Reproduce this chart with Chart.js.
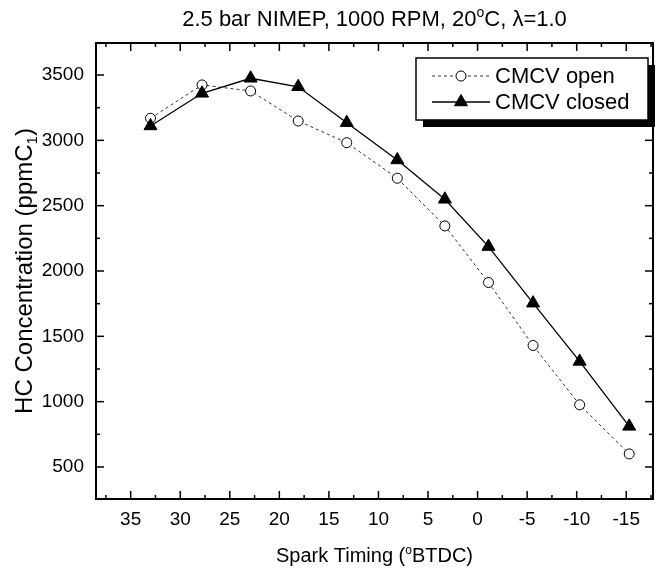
<!DOCTYPE html>
<html>
<head>
<meta charset="utf-8">
<script src="https://cdn.jsdelivr.net/npm/chart.js@4.4.1/dist/chart.umd.min.js"></script>
<style>
  html, body { margin: 0; padding: 0; background: #fff; }
</style>
</head>
<body>
<canvas id="chart" width="656" height="575"></canvas>
<script>
// spark timing of each test point, deg BTDC
const sparkTiming = [33, 27.8, 22.9, 18.1, 13.2, 8.1, 3.3, -1.1, -5.6, -10.3, -15.3];
// HC concentration, ppmC1
const hcOpen = [3169, 3424, 3378, 3148, 2982, 2710, 2345, 1912, 1430, 976, 600];
const hcClosed = [3110, 3360, 3475, 3410, 3135, 2850, 2549, 2187, 1754, 1308, 811];
const seriesNames = ['CMCV open', 'CMCV closed'];
const xTicks = [35, 30, 25, 20, 15, 10, 5, 0, -5, -10, -15];
const yTicks = [500, 1000, 1500, 2000, 2500, 3000, 3500];

const FONT = '"Liberation Sans", Arial, sans-serif';

function partsWidth(ctx, parts, size) {
  let w = 0;
  for (const p of parts) {
    ctx.font = (p.sup || p.sub ? Math.round(size * 0.62) : size) + 'px ' + FONT;
    w += ctx.measureText(p.t).width;
  }
  return w;
}

// draws text with super/subscripts, centred on x, y is the baseline
function drawParts(ctx, parts, x, y, size) {
  let cx = x - partsWidth(ctx, parts, size) / 2;
  ctx.textAlign = 'left';
  ctx.textBaseline = 'alphabetic';
  ctx.fillStyle = '#000';
  for (const p of parts) {
    ctx.font = (p.sup || p.sub ? Math.round(size * 0.62) : size) + 'px ' + FONT;
    const dy = p.sup ? -size * 0.4 : p.sub ? size * 0.22 : 0;
    ctx.fillText(p.t, cx, y + dy);
    cx += ctx.measureText(p.t).width;
  }
}

// minor ticks half way between the major ones, kept inside the scale
function minorOf(majors, scale) {
  const step = majors[1] - majors[0];
  const out = [majors[0] - step / 2];
  for (let i = 1; i < majors.length; i++) out.push((majors[i] + majors[i - 1]) / 2);
  out.push(majors[majors.length - 1] + step / 2);
  return out.filter((v) => v >= scale.min && v <= scale.max);
}

const framePlugin = {
  id: 'frame',
  beforeDatasetsDraw(chart) {
    const { ctx, chartArea: a, scales } = chart;
    ctx.save();
    ctx.strokeStyle = '#000';
    ctx.lineWidth = 2;
    ctx.strokeRect(a.left, a.top, a.right - a.left, a.bottom - a.top);

    ctx.lineWidth = 1.5;
    const tick = (x1, y1, x2, y2) => {
      ctx.beginPath();
      ctx.moveTo(x1, y1);
      ctx.lineTo(x2, y2);
      ctx.stroke();
    };
    const xs = scales.x, ys = scales.y;
    xTicks.forEach((v) => {
      const px = xs.getPixelForValue(v);
      tick(px, a.bottom, px, a.bottom - 8);
      tick(px, a.top, px, a.top + 8);
    });
    minorOf(xTicks, xs).forEach((v) => {
      const px = xs.getPixelForValue(v);
      tick(px, a.bottom, px, a.bottom - 4);
      tick(px, a.top, px, a.top + 4);
    });
    yTicks.forEach((v) => {
      const py = ys.getPixelForValue(v);
      tick(a.left, py, a.left + 8, py);
      tick(a.right, py, a.right - 8, py);
    });
    minorOf(yTicks, ys).forEach((v) => {
      const py = ys.getPixelForValue(v);
      tick(a.left, py, a.left + 4, py);
      tick(a.right, py, a.right - 4, py);
    });
    ctx.restore();
  },
  afterDraw(chart) {
    const { ctx, chartArea: a } = chart;
    ctx.save();
    const midX = (a.left + a.right) / 2;
    drawParts(ctx, [
      { t: '2.5 bar NIMEP, 1000 RPM, 20' }, { t: 'o', sup: true }, { t: 'C, \u03bb=1.0' },
    ], midX, 26, 22);
    drawParts(ctx, [
      { t: 'Spark Timing (' }, { t: 'o', sup: true }, { t: 'BTDC)' },
    ], midX, 562, 20);
    ctx.save();
    ctx.translate(32, (a.top + a.bottom) / 2);
    ctx.rotate(-Math.PI / 2);
    drawParts(ctx, [
      { t: 'HC Concentration (ppmC' }, { t: '1', sub: true }, { t: ')' },
    ], 0, 0, 24);
    ctx.restore();

    // legend box with drop shadow
    const box = { x: a.right - 237, y: a.top + 15, w: 232, h: 62 };
    ctx.fillStyle = '#000';
    ctx.fillRect(box.x + 7, box.y + 7, box.w, box.h);
    ctx.fillStyle = '#fff';
    ctx.fillRect(box.x, box.y, box.w, box.h);
    ctx.strokeStyle = '#000';
    ctx.lineWidth = 1.5;
    ctx.strokeRect(box.x, box.y, box.w, box.h);

    chart.data.datasets.forEach((ds, i) => {
      const rowY = box.y + 18 + i * 26;
      ctx.save();
      ctx.strokeStyle = ds.borderColor;
      ctx.lineWidth = ds.borderWidth;
      ctx.setLineDash(ds.borderDash || []);
      ctx.beginPath();
      ctx.moveTo(box.x + 16, rowY);
      ctx.lineTo(box.x + 74, rowY);
      ctx.stroke();
      ctx.setLineDash([]);
      ctx.fillStyle = ds.pointBackgroundColor;
      ctx.strokeStyle = ds.pointBorderColor;
      ctx.lineWidth = ds.pointBorderWidth;
      Chart.helpers.drawPoint(ctx, {
        pointStyle: ds.pointStyle,
        radius: ds.pointRadius,
        borderWidth: ds.pointBorderWidth,
        rotation: 0,
      }, box.x + 45, rowY);
      ctx.restore();
      ctx.fillStyle = '#000';
      ctx.font = '22px ' + FONT;
      ctx.textAlign = 'left';
      ctx.textBaseline = 'middle';
      ctx.fillText(ds.label, box.x + 79, rowY + 1);
    });
    ctx.restore();
  },
};

const tickFont = { family: FONT, size: 19 };

new Chart(document.getElementById('chart'), {
  type: 'line',
  data: {
    datasets: [
      {
        label: seriesNames[0],
        data: sparkTiming.map((x, i) => ({ x, y: hcOpen[i] })),
        borderColor: '#333',
        borderWidth: 1,
        borderDash: [3, 3],
        pointStyle: 'circle',
        pointRadius: 5,
        pointBackgroundColor: '#fff',
        pointBorderColor: '#000',
        pointBorderWidth: 1,
        order: 1,
      },
      {
        label: seriesNames[1],
        data: sparkTiming.map((x, i) => ({ x, y: hcClosed[i] })),
        borderColor: '#000',
        borderWidth: 1.3,
        pointStyle: 'triangle',
        pointRadius: 7.5,
        pointBackgroundColor: '#000',
        pointBorderColor: '#000',
        pointBorderWidth: 1,
        order: 0,
      },
    ],
  },
  options: {
    responsive: false,
    animation: false,
    devicePixelRatio: 1,
    layout: { autoPadding: false, padding: { top: 43, right: 3, left: 0, bottom: 0 } },
    plugins: { legend: { display: false }, tooltip: { enabled: false }, title: { display: false } },
    scales: {
      x: {
        type: 'linear',
        reverse: true,
        min: -17.7,
        max: 38.5,
        grid: { display: false, drawTicks: false },
        border: { display: false },
        afterBuildTicks: (s) => { s.ticks = xTicks.map((v) => ({ value: v })); },
        afterFit: (s) => {
          s.height = 76;
          s.paddingLeft = 0;
          s.paddingRight = 0;
        },
        ticks: { color: '#000', font: tickFont, padding: 9, maxRotation: 0, autoSkip: false, callback: (v) => String(v) },
      },
      y: {
        type: 'linear',
        min: 255,
        max: 3745,
        grid: { display: false, drawTicks: false },
        border: { display: false },
        afterBuildTicks: (s) => { s.ticks = yTicks.map((v) => ({ value: v })); },
        afterFit: (s) => {
          s.width = 96;
          s.paddingTop = 0;
          s.paddingBottom = 0;
        },
        ticks: { color: '#000', font: tickFont, padding: 12, autoSkip: false, callback: (v) => String(v) },
      },
    },
  },
  plugins: [framePlugin],
});
</script>
</body>
</html>
